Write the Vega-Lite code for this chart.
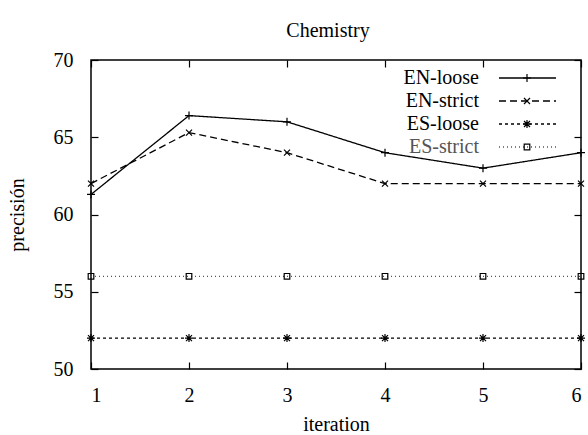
{
  "$schema": "https://vega.github.io/schema/vega-lite/v6.json",
  "width": 490,
  "height": 309,
  "autosize": {"type": "none"},
  "padding": {"left": 91, "top": 60, "right": 7, "bottom": 66},
  "background": "white",
  "title": {"text": "Chemistry", "font": "Liberation Serif, Times New Roman, serif", "fontSize": 20, "fontWeight": "normal", "color": "black", "offset": 9, "dx": -8},
  "config": {
    "view": {"stroke": "black", "strokeWidth": 1.5},
    "axis": {"labelFont": "Liberation Serif, Times New Roman, serif", "titleFont": "Liberation Serif, Times New Roman, serif", "labelFontSize": 20, "titleFontSize": 20, "titleFontWeight": "normal", "labelColor": "black", "titleColor": "black", "grid": false, "domain": false, "tickColor": "black", "tickWidth": 1.2, "tickSize": -7}
  },
  "data": {"values": [
    {"iteration": 1, "series": "EN-loose", "value": 61.3},
    {"iteration": 2, "series": "EN-loose", "value": 66.4},
    {"iteration": 3, "series": "EN-loose", "value": 66.0},
    {"iteration": 4, "series": "EN-loose", "value": 64.0},
    {"iteration": 5, "series": "EN-loose", "value": 63.0},
    {"iteration": 6, "series": "EN-loose", "value": 64.0},
    {"iteration": 1, "series": "EN-strict", "value": 62.0},
    {"iteration": 2, "series": "EN-strict", "value": 65.3},
    {"iteration": 3, "series": "EN-strict", "value": 64.0},
    {"iteration": 4, "series": "EN-strict", "value": 62.0},
    {"iteration": 5, "series": "EN-strict", "value": 62.0},
    {"iteration": 6, "series": "EN-strict", "value": 62.0},
    {"iteration": 1, "series": "ES-loose", "value": 52.0},
    {"iteration": 2, "series": "ES-loose", "value": 52.0},
    {"iteration": 3, "series": "ES-loose", "value": 52.0},
    {"iteration": 4, "series": "ES-loose", "value": 52.0},
    {"iteration": 5, "series": "ES-loose", "value": 52.0},
    {"iteration": 6, "series": "ES-loose", "value": 52.0},
    {"iteration": 1, "series": "ES-strict", "value": 56.0},
    {"iteration": 2, "series": "ES-strict", "value": 56.0},
    {"iteration": 3, "series": "ES-strict", "value": 56.0},
    {"iteration": 4, "series": "ES-strict", "value": 56.0},
    {"iteration": 5, "series": "ES-strict", "value": 56.0},
    {"iteration": 6, "series": "ES-strict", "value": 56.0}
  ]},
  "resolve": {"axis": {"x": "independent", "y": "independent"}},
  "layer": [
    {
      "mark": {"type": "line", "strokeWidth": 1.3},
      "encoding": {
        "x": {"field": "iteration", "type": "quantitative", "scale": {"domain": [1, 6], "nice": false, "zero": false},
              "axis": {"values": [1, 2, 3, 4, 5, 6], "title": "iteration", "labelPadding": 23, "titlePadding": 9, "format": "d"}},
        "y": {"field": "value", "type": "quantitative", "scale": {"domain": [50, 70], "nice": false, "zero": false},
              "axis": {"values": [50, 55, 60, 65, 70], "title": "precisión", "labelPadding": 25, "titlePadding": 26}},
        "color": {"field": "series", "type": "nominal",
                  "scale": {"domain": ["EN-loose", "EN-strict", "ES-loose", "ES-strict"], "range": ["black", "black", "black", "#555555"]},
                  "legend": {
                    "title": null, "orient": "none", "legendX": 407, "legendY": 8,
                    "symbolType": "stroke", "symbolSize": 3249, "symbolStrokeWidth": 1.3, "clipHeight": 20,
                    "labelFont": "Liberation Serif, Times New Roman, serif", "labelFontSize": 20, "labelAlign": "right", "labelOffset": -78, "rowPadding": 3, "labelLimit": 0,
                    "encode": {
                      "entries": {"update": {"width": {"value": 120}}},
                      "labels": {"update": {"fill": {"signal": "datum.value === 'ES-strict' ? '#555555' : 'black'"}}}
                    }
                  }},
        "strokeDash": {"field": "series", "type": "nominal",
                  "scale": {"domain": ["EN-loose", "EN-strict", "ES-loose", "ES-strict"], "range": [[1, 0], [7, 4], [3, 3], [1, 3]]}}
      }
    },
    {
      "mark": {"type": "point", "filled": false, "stroke": "black", "strokeWidth": 1.2, "size": 64, "opacity": 1},
      "encoding": {
        "x": {"field": "iteration", "type": "quantitative", "axis": {"orient": "top", "values": [1, 2, 3, 4, 5, 6], "labels": false, "title": null}},
        "y": {"field": "value", "type": "quantitative", "axis": {"orient": "right", "values": [50, 55, 60, 65, 70], "labels": false, "title": null}},
        "shape": {"field": "series", "type": "nominal",
                  "legend": {"title": null, "orient": "none", "legendX": 431, "legendY": 8, "symbolSize": 64, "symbolStrokeWidth": 1.2, "symbolStrokeColor": "black", "symbolFillColor": "white",
                             "labelExpr": "''", "labelFontSize": 1, "rowPadding": 3, "clipHeight": 20,
                             "encode": {"entries": {"update": {"width": {"value": 40}}}}},
                  "scale": {"range": ["M-1,0L1,0M0,-1L0,1", "M-0.75,-0.75L0.75,0.75M-0.75,0.75L0.75,-0.75", "M-1,0L1,0M0,-1L0,1M-0.75,-0.75L0.75,0.75M-0.75,0.75L0.75,-0.75", "M-0.7,-0.7L0.7,-0.7L0.7,0.7L-0.7,0.7Z"]}}
      }
    }
  ]
}
